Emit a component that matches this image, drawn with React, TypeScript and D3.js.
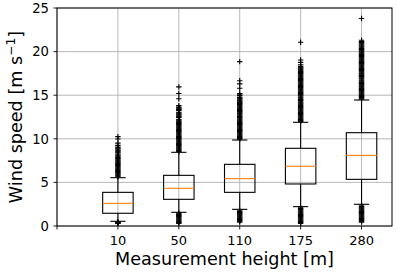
import React from "react";
import * as d3 from "d3";

const categories = ["10", "50", "110", "175", "280"];
const q1 = [1.46, 3.06, 3.86, 4.82, 5.35];
const medians = [2.6, 4.32, 5.43, 6.85, 8.1];
const q3 = [3.86, 5.81, 7.07, 8.91, 10.7];
const whiskerLow = [0.54, 1.57, 1.91, 2.22, 2.49];
const whiskerHigh = [5.54, 8.45, 9.86, 11.89, 14.45];

const outliers10 = [0.30,0.34,0.38,0.42,0.46,5.65,5.75,5.85,5.95,6.05,6.15,6.25,6.35,6.45,6.55,6.65,6.75,6.85,6.95,7.05,7.15,7.25,7.35,7.45,7.55,7.65,7.75,7.85,7.95,8.05,8.15,8.25,8.40,8.50,8.60,8.70,8.85,8.95,9.05,9.25,9.50,9.98,10.25];
const outliers50 = [0.30,0.40,0.50,0.60,0.70,0.80,0.90,1.00,1.10,1.20,1.30,1.40,1.50,8.55,8.65,8.75,8.85,8.95,9.05,9.15,9.25,9.35,9.45,9.55,9.65,9.75,9.85,9.95,10.05,10.15,10.25,10.35,10.45,10.55,10.65,10.75,10.85,10.95,11.05,11.15,11.25,11.35,11.45,11.55,11.65,11.75,11.85,11.95,12.05,12.15,12.25,12.45,12.55,12.65,12.75,12.85,12.95,13.05,13.25,13.35,13.45,13.55,13.65,13.80,14.60,15.20,15.95];
const outliers110 = [0.45,0.55,0.65,0.75,0.85,0.95,1.05,1.15,1.25,1.35,1.45,1.55,1.65,1.80,9.95,10.05,10.15,10.25,10.35,10.45,10.55,10.65,10.75,10.85,10.95,11.05,11.15,11.25,11.35,11.45,11.55,11.65,11.75,11.85,11.95,12.05,12.15,12.25,12.35,12.45,12.55,12.65,12.75,12.85,12.95,13.05,13.15,13.25,13.35,13.45,13.55,13.65,13.75,13.85,13.95,14.05,14.15,14.25,14.35,14.45,14.55,14.65,14.75,14.95,15.05,15.20,15.80,16.30,16.65,18.85];
const outliers175 = [0.30,0.40,0.50,0.60,0.70,0.80,0.90,1.00,1.10,1.20,1.30,1.40,1.50,1.60,1.70,1.80,1.90,2.00,2.10,12.00,12.10,12.20,12.30,12.40,12.50,12.60,12.70,12.80,12.90,13.00,13.10,13.20,13.30,13.40,13.50,13.60,13.70,13.80,13.90,14.00,14.10,14.20,14.30,14.40,14.50,14.60,14.70,14.80,14.90,15.00,15.10,15.20,15.30,15.40,15.50,15.60,15.70,15.80,15.90,16.00,16.10,16.20,16.30,16.40,16.50,16.60,16.70,16.80,16.90,17.00,17.10,17.20,17.30,17.40,17.50,17.60,17.70,17.80,17.90,18.00,18.10,18.20,18.30,18.50,18.77,19.04,21.07];
const outliers280 = [0.45,0.55,0.65,0.75,0.85,0.95,1.05,1.15,1.25,1.35,1.45,1.55,1.65,1.75,1.85,1.95,2.05,2.15,2.25,2.40,14.55,14.65,14.75,14.85,14.95,15.05,15.15,15.25,15.35,15.45,15.55,15.65,15.75,15.85,15.95,16.05,16.15,16.25,16.35,16.45,16.55,16.65,16.75,16.85,16.95,17.05,17.15,17.25,17.35,17.45,17.55,17.65,17.75,17.85,17.95,18.05,18.15,18.25,18.35,18.45,18.55,18.65,18.75,18.85,18.95,19.05,19.15,19.25,19.35,19.45,19.55,19.65,19.75,19.85,19.95,20.05,20.15,20.25,20.35,20.45,20.55,20.65,20.75,20.85,20.95,21.05,21.15,21.30,23.80];
const outlierSets = [outliers10, outliers50, outliers110, outliers175, outliers280];

const yTicks = [0, 5, 10, 15, 20, 25];
const xTickLabels = ["", ...categories];

const W = 397, H = 274;
const L = 57, R = 392, T = 8, B = 226;

export default function App() {
  const x = d3.scaleLinear().domain([0, 5.5]).range([L, R]);
  const y = d3.scaleLinear().domain([0, 25]).range([B, T]);
  const hw = x(0.25) - x(0);
  const cw = x(0.125) - x(0);
  const ms = 2.7;
  const font = "DejaVu Sans, sans-serif";
  return (
    <svg width={W} height={H} style={{ position: "absolute", left: 0, top: 0 }} fontFamily={font}>
      <rect x={0} y={0} width={W} height={H} fill="#fff" />
      {yTicks.map((t) => (
        <line key={"gy" + t} x1={L} x2={R} y1={y(t)} y2={y(t)} stroke="#b0b0b0" strokeWidth={0.9} />
      ))}
      {xTickLabels.map((_, i) => (
        <line key={"gx" + i} x1={x(i)} x2={x(i)} y1={T} y2={B} stroke="#b0b0b0" strokeWidth={0.9} />
      ))}
      {categories.map((c, i) => {
        const cx = x(i + 1);
        return (
          <g key={c} stroke="#000" strokeWidth={1.1} fill="none">
            <rect x={cx - hw} y={y(q3[i])} width={2 * hw} height={y(q1[i]) - y(q3[i])} />
            <line x1={cx} x2={cx} y1={y(q3[i])} y2={y(whiskerHigh[i])} />
            <line x1={cx} x2={cx} y1={y(q1[i])} y2={y(whiskerLow[i])} />
            <line x1={cx - cw} x2={cx + cw} y1={y(whiskerHigh[i])} y2={y(whiskerHigh[i])} />
            <line x1={cx - cw} x2={cx + cw} y1={y(whiskerLow[i])} y2={y(whiskerLow[i])} />
            <line x1={cx - hw} x2={cx + hw} y1={y(medians[i])} y2={y(medians[i])} stroke="#ff7f0e" />
            {outlierSets[i].map((v, j) => (
              <path key={j} d={`M${cx - ms},${y(v)}H${cx + ms}M${cx},${y(v) - ms}V${y(v) + ms}`} strokeWidth={1.1} />
            ))}
          </g>
        );
      })}
      <rect x={L} y={T} width={R - L} height={B - T} fill="none" stroke="#000" strokeWidth={1} />
      {yTicks.map((t) => (
        <g key={"yt" + t}>
          <line x1={L - 3.5} x2={L} y1={y(t)} y2={y(t)} stroke="#000" strokeWidth={0.9} />
          <text x={L - 8} y={y(t)} dy="0.36em" textAnchor="end" fontSize={13.2} fill="#000">{t}</text>
        </g>
      ))}
      {xTickLabels.map((lab, i) => (
        <g key={"xt" + i}>
          <line x1={x(i)} x2={x(i)} y1={B} y2={B + 3.5} stroke="#000" strokeWidth={0.9} />
          {lab !== "" && (
            <text x={x(i)} y={244.5} textAnchor="middle" fontSize={13} fill="#000">{lab}</text>
          )}
        </g>
      ))}
      <text x={(L + R) / 2} y={264.5} textAnchor="middle" fontSize={17.6} fill="#000">Measurement height [m]</text>
      <text transform={`translate(22,${(T + B) / 2}) rotate(-90)`} textAnchor="middle" fontSize={17.6} fill="#000">
        Wind speed [m s<tspan dy={-7} fontSize={12.3}>−1</tspan><tspan dy={7}>]</tspan>
      </text>
    </svg>
  );
}
